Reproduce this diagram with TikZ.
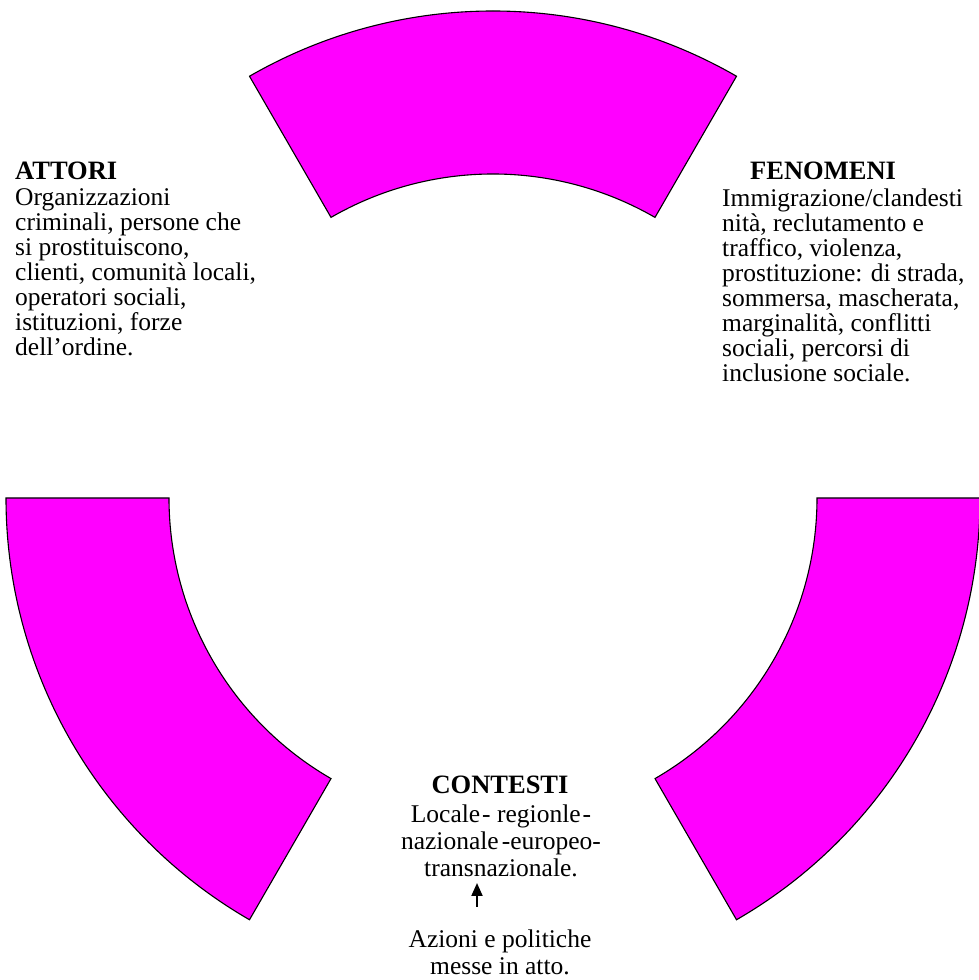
\documentclass[tikz,border=0pt]{standalone}
\usepackage{fontspec}
\setmainfont{Liberation Serif}
\usetikzlibrary{arrows.meta}
\definecolor{sectormag}{HTML}{FF00FF}
\tikzset{
  sector/.style={fill=sectormag, draw=black, line width=1.1pt, line join=miter},
  headtext/.style={inner sep=0pt, font=\fontsize{26.5}{25}\selectfont\bfseries},
  bodytext/.style={inner sep=0pt, font=\fontsize{25.5}{25}\selectfont},
  ctrtext/.style={inner sep=0pt, font=\fontsize{25.5}{27}\selectfont},
  uparrow/.style={line width=2pt, -{Triangle[length=13pt,width=11pt]}}
}
\newcommand{\annsector}[5]{% center, start, end, outer r, inner r
  \filldraw[sector] ([shift={#1}]#2:#4) arc[start angle=#2, end angle=#3, radius=#4]
    -- ([shift={#1}]#3:#5) arc[start angle=#3, end angle=#2, radius=#5] -- cycle;}
\begin{document}
\begin{tikzpicture}
\useasboundingbox (0pt,0pt) rectangle (979pt,980pt);
% sectors
\annsector{(493pt,482pt)}{60}{120}{487pt}{324pt}
\annsector{(493pt,482pt)}{180}{240}{487pt}{324pt}
\annsector{(493pt,482pt)}{300}{360}{487pt}{324pt}
% ATTORI
\node[headtext, anchor=base west] (attoriHead) at (15pt,800pt) {ATTORI};
\node[bodytext, anchor=base west] (attoriBody) at (15pt,774pt) {\parbox[t]{300pt}{\raggedright
Organizzazioni\\
criminali, persone che\\
si prostituiscono,\\
clienti, comunità locali,\\
operatori sociali,\\
istituzioni, forze\\
dell’ordine.}};
% FENOMENI
\node[headtext, anchor=base west] (fenHead) at (750pt,800pt) {FENOMENI};
\node[bodytext, anchor=base west] (fenBody) at (722pt,773pt) {\parbox[t]{300pt}{\raggedright
Immigrazione/clandesti\\
nità, reclutamento e\\
traffico, violenza,\\
prostituzione: di strada,\\
sommersa, mascherata,\\
marginalità, conflitti\\
sociali, percorsi di\\
inclusione sociale.}};
% CONTESTI
\node[headtext, anchor=base] (contHead) at (500pt,186pt) {CONTESTI};
\node[ctrtext, anchor=base] (contBody) at (501pt,157pt) {\parbox[t]{260pt}{\centering
Locale\kern2pt-\ regionle\kern2pt-\\
nazionale\kern3pt-europeo-\\
transnazionale.}};
\node[ctrtext, anchor=base] (azioni) at (500pt,32pt) {\parbox[t]{260pt}{\centering
Azioni e politiche\\
messe in atto.}};
\coordinate (arrFrom) at (477pt,73pt);
\coordinate (arrTo) at (477pt,97pt);
\draw[uparrow] (arrFrom) -- (arrTo);
\end{tikzpicture}
\end{document}
